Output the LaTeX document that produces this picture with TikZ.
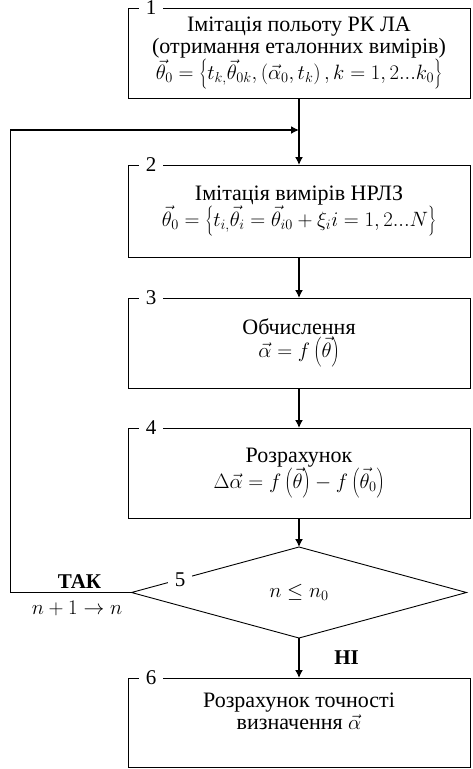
\documentclass[tikz,border=0pt]{standalone}
\usepackage{fontspec}
\setmainfont{Liberation Serif}
\newfontfamily\algofont{Liberation Serif}
\usetikzlibrary{arrows.meta,calc,positioning,shapes.geometric}
\tikzset{
  algoBox/.style={
    draw=black,
    line width=0.9pt,
    align=center,
    minimum width=342pt,
    minimum height=90pt,
    inner sep=2pt,
    font=\algofont\fontsize{22}{22.5}\selectfont
  },
  algoNum/.style={
    fill=white,
    inner xsep=7pt,
    inner ysep=0pt,
    font=\algofont\fontsize{21}{22}\selectfont
  },
  algoCond/.style={
    diamond,
    draw=black,
    line width=0.9pt,
    minimum width=335pt,
    minimum height=91pt,
    inner sep=0pt,
    font=\algofont\fontsize{22}{22.5}\selectfont
  },
  algoArrow/.style={
    -{Latex[length=8pt,width=8pt]},
    line width=1.5pt
  },
  algoLine/.style={
    line width=1.3pt
  },
  algoLabel/.style={
    font=\algofont\fontsize{21}{22}\selectfont
  }
}

\begin{document}
\begin{tikzpicture}[
  node distance=40pt,
  every node/.style={outer sep=0pt}
]
\useasboundingbox (0,0) rectangle (472pt,-769pt);

\node[algoBox] (flight) at (299pt,-53pt)
  {Імітація польоту РК ЛА\\
   (отримання еталонних вимірів)\\
   $\vec{\theta}_0=\left\{t_{k,}\vec{\theta}_{0k},\left(\vec{\alpha}_0,t_k\right),k=1,2...k_0\right\}$};
\node[algoBox, minimum height=92pt, below=67pt of flight] (meas)
  {Імітація вимірів НРЛЗ\\
   $\vec{\theta}_0=\left\{t_{i,}\vec{\theta}_i=\vec{\theta}_{i0}+\xi_i i=1,2...N\right\}$};
\node[algoBox, below=41pt of meas] (calc)
  {Обчислення\\
   $\vec{\alpha}=f\left(\vec{\theta}\right)$};
\node[algoBox, below=of calc] (delta)
  {Розрахунок\\
   $\Delta\vec{\alpha}=f\left(\vec{\theta}\right)-f\left(\vec{\theta}_0\right)$};
\node[algoCond, below=29pt of delta] (cond) {$n\le n_0$};
\node[algoBox, minimum height=89pt, below=of cond] (accur)
  {Розрахунок точності\\
   визначення $\vec{\alpha}$\\
   \mbox{}};

% step numbers on the frames
\node[algoNum] (n1) at ([xshift=23pt]flight.north west) {1};
\node[algoNum] (n2) at ([xshift=23pt]meas.north west) {2};
\node[algoNum] (n3) at ([xshift=23pt]calc.north west) {3};
\node[algoNum] (n4) at ([xshift=23pt]delta.north west) {4};
\node[algoNum] (n5) at ($(cond.west)!0.29!(cond.north)$) {5};
\node[algoNum] (n6) at ([xshift=23pt]accur.north west) {6};

\coordinate[below=32pt of flight.south] (join);
\coordinate[left=121pt of cond.west] (turn);

\draw[algoLine] (flight) -- (join);
\draw[algoArrow] (join) -- (meas);
\draw[algoArrow] (meas) -- (calc);
\draw[algoArrow] (calc) -- (delta);
\draw[algoArrow] (delta) -- (cond);
\draw[algoArrow] (cond) -- node[pos=0.5, right=32pt, algoLabel]
  {\textbf{НІ}} (accur);
\draw[algoArrow] (cond.west) -- node[pos=0.43, above=1pt, algoLabel]
  {\textbf{ТАК}} node[pos=0.45, below=5pt, algoLabel]
  {$n+1\rightarrow n$} (turn) |- (join);
\end{tikzpicture}
\end{document}
